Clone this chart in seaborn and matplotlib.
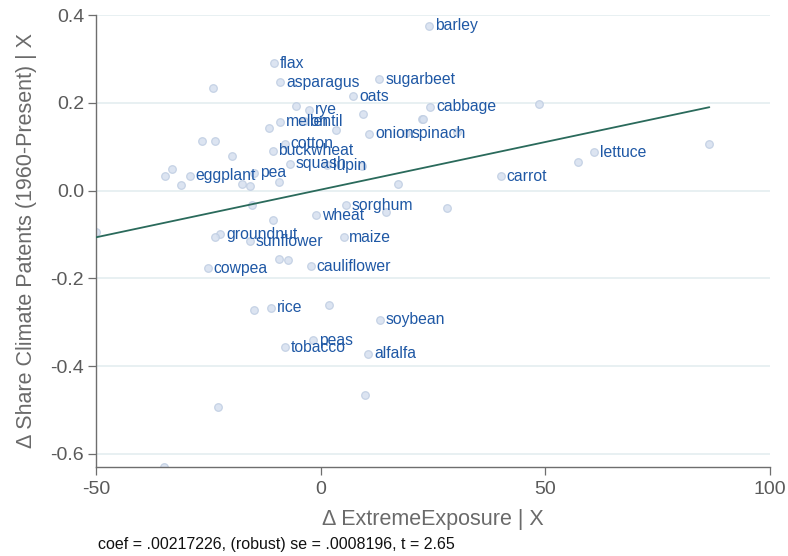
import matplotlib
matplotlib.use("Agg")
import matplotlib.pyplot as plt
import seaborn as sns
import numpy as np
import pandas as pd

# ---- data ----
labeled_crops = ["barley", "flax", "asparagus", "sugarbeet", "oats", "rye", "cabbage",
                 "melon", "lentil", "onion", "spinach", "cotton", "buckwheat", "squash",
                 "lupin", "lettuce", "carrot", "eggplant", "pea", "sorghum", "wheat",
                 "groundnut", "sunflower", "maize", "cowpea", "cauliflower", "rice",
                 "soybean", "peas", "tobacco", "alfalfa"]
labeled_x = [24.2, -10.3, -9.0, 13.05, 7.3, -2.6, 24.4,
             -9.05, -3.7, 10.8, 19.0, -8.0, -10.7, -6.9,
             1.4, 60.9, 40.05, -29.1, -14.8, 5.6, -1.0,
             -22.3, -15.8, 5.1, -25.1, -2.2, -11.0,
             13.2, -1.6, -7.9, 10.6]
labeled_y = [0.376, 0.290, 0.247, 0.2535, 0.215, 0.184, 0.191,
             0.157, 0.158, 0.129, 0.130, 0.107, 0.091, 0.061,
             0.058, 0.087, 0.032, 0.034, 0.040, -0.033, -0.056,
             -0.100, -0.116, -0.106, -0.177, -0.173, -0.267,
             -0.294, -0.341, -0.357, -0.3715]

other_x = [-24.0, -5.4, 9.5, 48.6, 22.5, 22.8, -11.4, 3.5, 30.4, -26.5, -23.45,
           -19.7, 9.3, -33.0, -34.7, -31.15, -17.6, -15.7, -9.3, 17.3, 57.2, 86.5,
           -50.0, -15.2, -10.7, 14.5, 28.05, -23.45, -9.3, -7.2, -14.8, 1.9,
           -22.8, 9.8, -34.8]
other_y = [0.233, 0.193, 0.174, 0.197, 0.162, 0.164, 0.142, 0.138, 0.134, 0.114, 0.114,
           0.078, 0.057, 0.049, 0.033, 0.012, 0.016, 0.0105, 0.019, 0.016, 0.064, 0.106,
           -0.094, -0.033, -0.068, -0.050, -0.040, -0.106, -0.156, -0.159, -0.272, -0.260,
           -0.494, -0.466, -0.630]

coef = 0.00217226
intercept = 0.002
note = "coef = .00217226, (robust) se = .0008196, t = 2.65"

x_ticks = [-50, 0, 50, 100]
y_ticks = [0.4, 0.2, 0.0, -0.2, -0.4, -0.6]
x_label = "\u0394 ExtremeExposure | X"
y_label = "\u0394 Share Climate Patents (1960-Present) | X"

# ---- frames ----
df = pd.DataFrame({"x": labeled_x + other_x, "y": labeled_y + other_y})
xmin, xmax = df["x"].min(), df["x"].max()
fit = pd.DataFrame({"x": [xmin, xmax]})
fit["y"] = intercept + coef * fit["x"]

# ---- style ----
sns.set_theme(style="white")
plt.rcParams["font.family"] = ["Liberation Sans", "DejaVu Sans"]
plt.rcParams["axes.unicode_minus"] = False

fig = plt.figure(figsize=(7.88, 5.56), dpi=100)
ax = fig.add_axes([96 / 788, 1 - 467 / 556, (770 - 96) / 788, (467 - 15) / 556])

grid_c = "#e6eff1"
for yt in y_ticks:
    ax.axhline(yt, color=grid_c, lw=1.3, zorder=0)

sns.scatterplot(data=df, x="x", y="y", ax=ax, s=30, color="#d6e0ef",
                edgecolor="#bfcde2", linewidth=0.9, alpha=0.85, zorder=2, legend=False)
sns.lineplot(data=fit, x="x", y="y", ax=ax, color="#2a6a5b", lw=1.3, zorder=3)

for name, xv, yv in zip(labeled_crops, labeled_x, labeled_y):
    ax.annotate(name, (xv, yv), xytext=(4.2, 0), textcoords="offset points",
                ha="left", va="center", fontsize=11.3, color="#1f58a5", zorder=4)

ax.set_xlim(-50, 100)
ax.set_ylim(-0.63, 0.4)
ax.set_xticks(x_ticks)
ax.set_xticklabels([str(t) for t in x_ticks])
ax.set_yticks(y_ticks)
ax.set_yticklabels([f"{t:.1f}" for t in y_ticks])

for s in ["top", "right"]:
    ax.spines[s].set_visible(False)
for s in ["left", "bottom"]:
    ax.spines[s].set_color("#6e6e6e")
    ax.spines[s].set_linewidth(1.0)

ax.tick_params(axis="both", which="major", direction="out", length=5.5, width=0.9,
               color="#6e6e6e", labelcolor="#5a5a5a", labelsize=14, pad=3)
ax.tick_params(axis="x", pad=4.5)
ax.tick_params(axis="both", bottom=True, left=True)

ax.set_xlabel(x_label, fontsize=15.5, color="#6a6a6a", labelpad=8)
ax.set_ylabel(y_label, fontsize=15.5, color="#6a6a6a", labelpad=10)

fig.text(98 / 788, 1 - 544 / 556, note, fontsize=11.5, color="#111111",
         ha="left", va="center")

fig.savefig("out.png", dpi=100)
